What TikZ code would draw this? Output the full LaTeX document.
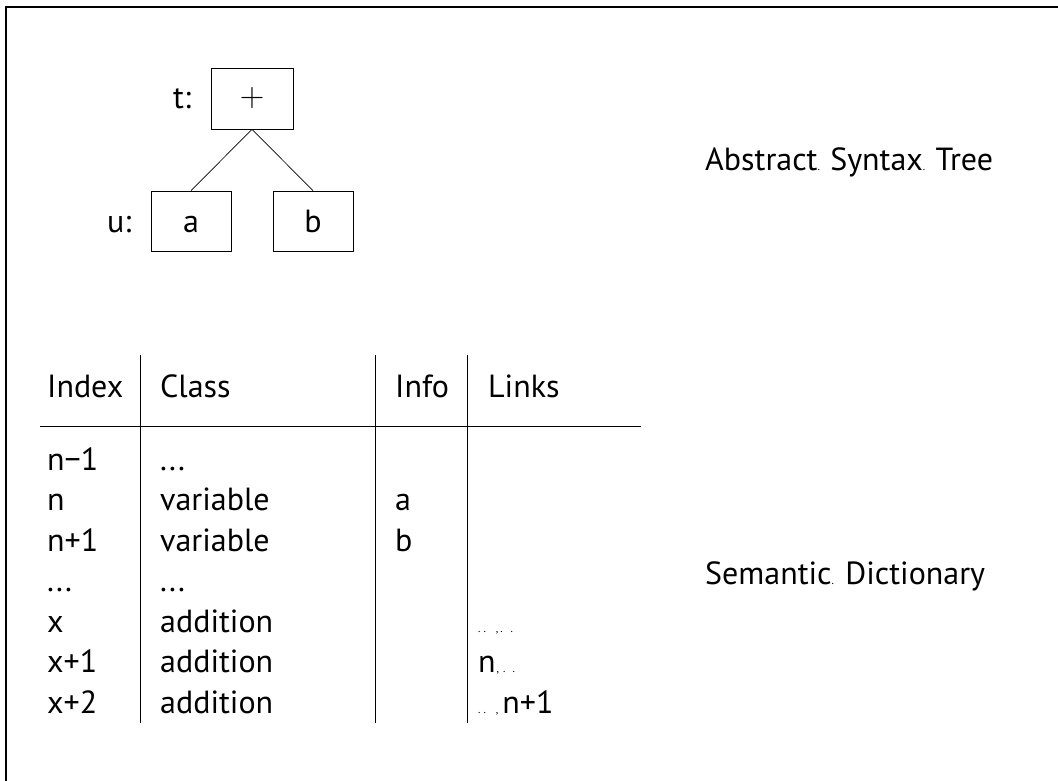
\documentclass[tikz,border=0pt]{standalone}
\usepackage{fontspec}
\setmainfont{PT Sans}
\newcommand{\tdot}{{\fontsize{11}{12}\selectfont .}}
\newcommand{\tcomma}{{\fontsize{11}{12}\selectfont ,}}
\begin{document}
\begin{tikzpicture}[x=1pt,y=-1pt,
  txt/.style={anchor=base west,inner sep=0pt,font=\fontsize{32}{38}\selectfont},
  treebox/.style={draw,line width=0.9pt,inner sep=0pt,font=\fontsize{32}{38}\selectfont},
  rule/.style={line width=0.9pt},
  frame/.style={line width=1.6pt}]
\useasboundingbox (0,0) rectangle (1058,781);
% frame
\coordinate (fbl) at (6,781);
\coordinate (ftl) at (6,7);
\coordinate (ftr) at (1058,7);
\draw[frame] (fbl) -- (ftl) -- (ftr);
% tree
\node[treebox,minimum width=82pt,minimum height=61pt,font=\fontsize{34}{40}\fontfamily{lmr}\selectfont] (t) at (252,98.5) {+};
\node[treebox,minimum width=80pt,minimum height=60pt,text height=22pt,text depth=0pt] (a) at (191,221) {a};
\node[treebox,minimum width=80pt,minimum height=60pt,text height=22pt,text depth=0pt] (b) at (313,221) {b};
\draw[line width=0.7pt] (t.south) -- (a.north);
\draw[line width=0.7pt] (t.south) -- (b.north);
\node[txt] (tl) at (173,109) {t:};
\node[txt] (ul) at (107,232) {u:};
\node[txt] (ast) at (705,171) {Abstract\tdot\hspace{-1pt} Syntax\tdot\hspace{-1pt} Tree};
\node[txt] (sd) at (705,584) {Semantic\tdot{} Dictionary};
% table rules
\coordinate (v1t) at (140,355); \coordinate (v1b) at (140,723);
\coordinate (v2t) at (375,355); \coordinate (v2b) at (375,723);
\coordinate (v3t) at (467,355); \coordinate (v3b) at (467,723);
\coordinate (hl) at (40,426); \coordinate (hr) at (641,426);
\draw[rule] (v1t) -- (v1b);
\draw[rule] (v2t) -- (v2b);
\draw[rule] (v3t) -- (v3b);
\draw[rule] (hl) -- (hr);
% header
\node[txt] (h1) at (47,397) {Index};
\node[txt] (h2) at (160,397) {Class};
\node[txt] (h3) at (395,397) {Info};
\node[txt] (h4) at (488,397) {Links};
% rows
\node[txt] (r1a) at (47,470) {n\textminus1};
\node[txt] (r1b) at (160,470) {...};
\node[txt] (r2a) at (47,510.5) {n};
\node[txt] (r2b) at (160,510.5) {variable};
\node[txt] (r2c) at (395,510.5) {a};
\node[txt] (r3a) at (47,551) {n+1};
\node[txt] (r3b) at (160,551) {variable};
\node[txt] (r3c) at (395,551) {b};
\node[txt] (r4a) at (47,591.5) {...};
\node[txt] (r4b) at (160,591.5) {...};
\node[txt] (r5a) at (47,632) {x};
\node[txt] (r5b) at (160,632) {addition};
\node[txt] (r5d) at (478,632) {\tdot\hspace{3pt}\tdot\hspace{10pt}\tcomma\hspace{2pt}\tdot\hspace{8pt}\tdot};
\node[txt] (r6a) at (47,672.5) {x+1};
\node[txt] (r6b) at (160,672.5) {addition};
\node[txt] (r6d) at (478,672.5) {n\hspace{1pt}\tcomma\hspace{4pt}\tdot\hspace{7pt}\tdot};
\node[txt] (r7a) at (47,713) {x+2};
\node[txt] (r7b) at (160,713) {addition};
\node[txt] (r7d) at (478,713) {\tdot\hspace{3pt}\tdot\hspace{10pt}\tcomma\hspace{4pt}n+1};
\end{tikzpicture}
\end{document}
